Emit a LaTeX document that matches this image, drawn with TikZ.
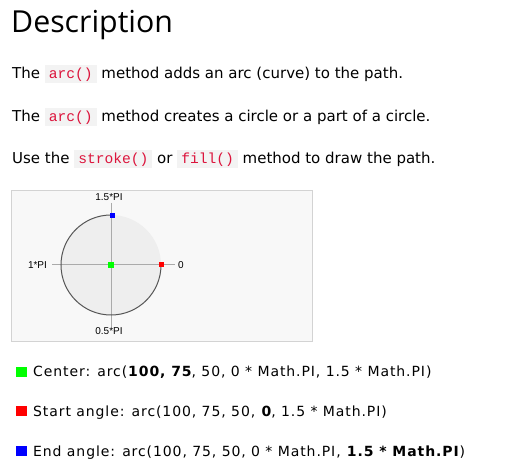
\documentclass[tikz,border=0pt]{standalone}
\usepackage{fontspec}
\setmainfont{DejaVu Sans}
\newfontfamily\headfont{Open Sans}
\newfontfamily\codefont{Liberation Mono}
\newfontfamily\canvasfont{Liberation Sans}
\newfontfamily\legendfont[LetterSpace=6.5]{DejaVu Sans}
\definecolor{codebg}{HTML}{F3F3F3}
\definecolor{codered}{HTML}{DC143C}
\definecolor{canvasbg}{HTML}{F8F8F8}
\definecolor{canvasborder}{HTML}{D3D3D3}
\definecolor{circfill}{HTML}{EEEEEE}
\definecolor{axisgray}{HTML}{AAAAAA}
\definecolor{arcgray}{HTML}{555555}
\newcommand{\codespan}[1]{{\setlength{\fboxsep}{0pt}\colorbox{codebg}{\rule[-4pt]{0pt}{18pt}\hspace{4pt}\textcolor{codered}{\codefont\fontsize{14.6}{16}\selectfont #1}\hspace{4pt}}}}
\tikzset{
  x=1pt, y=-1pt,
  para/.style={anchor=base west, inner sep=0pt, font=\fontsize{15}{18}\selectfont},
  legend/.style={anchor=base west, inner sep=0pt, font=\legendfont\fontsize{14}{16}\selectfont},
  clabel/.style={inner sep=0pt, font=\canvasfont\fontsize{10}{12}\selectfont},
  marker/.style={inner sep=0pt, minimum size=#1, draw=none},
  swatch/.style={inner sep=0pt, minimum width=11pt, minimum height=10pt, draw=none, anchor=north west}
}
\begin{document}
\begin{tikzpicture}
\useasboundingbox[fill=white] (0,0) rectangle (520,473);
% heading
\node[anchor=base west, inner sep=0pt, font=\headfont\fontsize{30.3}{34}\selectfont] (title) at (11,33) {Description};
% paragraphs
\node[para] (p1) at (12,79) {The \codespan{arc()} method adds an arc (curve) to the path.};
\node[para] (p2) at (12,122) {The \codespan{arc()} method creates a circle or a part of a circle.};
\node[para] (p3) at (12,164) {Use the \codespan{stroke()} or \codespan{fill()} method to draw the path.};
% canvas
\draw[canvasborder, fill=canvasbg, line width=1.5pt] (11.5,190.5) rectangle (312.5,341.5);
\fill[circfill] (111,265) circle[radius=50];
\draw[axisgray, line width=1pt] (52,265) -- (175,265);
\draw[axisgray, line width=1pt] (111,203) -- (111,327);
\draw[arcgray, line width=1pt] (161,265) arc[start angle=0, end angle=270, radius=50];
\node[clabel] (l15) at (109,197.5) {1.5*PI};
\node[clabel] (l0) at (181,265.5) {0};
\node[clabel] (l1) at (37.5,265.5) {1*PI};
\node[clabel] (l05) at (109,331.5) {0.5*PI};
\node[marker=5pt, fill=blue] (mend) at (112,215.5) {};
\node[marker=5pt, fill=red] (mstart) at (161.5,265) {};
\node[marker=6pt, fill=green] (mcenter) at (111,265) {};
% legend
\node[swatch, fill=green] (s1) at (16,367) {};
\node[legend] (t1) at (33,377) {Center: arc(\textbf{100, 75}, 50, 0 * Math.PI, 1.5 * Math.PI)};
\node[swatch, fill=red] (s2) at (16,406) {};
\node[legend] (t2) at (33,416.5) {Start angle: arc(100, 75, 50, \textbf{0}, 1.5 * Math.PI)};
\node[swatch, fill=blue] (s3) at (16,446) {};
\node[legend] (t3) at (33,456.5) {End angle: arc(100, 75, 50, 0 * Math.PI, \textbf{1.5 * Math.PI})};
\end{tikzpicture}
\end{document}
